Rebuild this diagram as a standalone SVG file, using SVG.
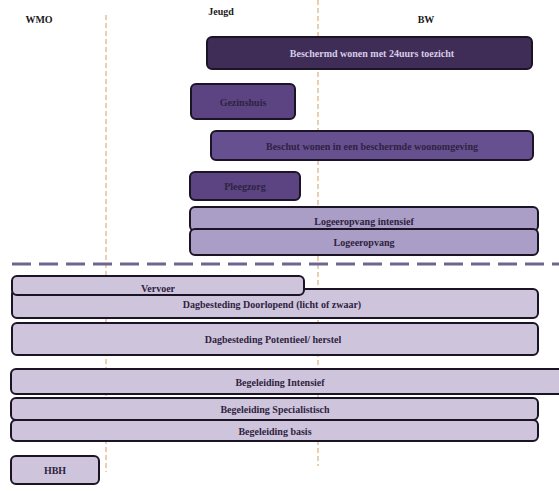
<svg xmlns="http://www.w3.org/2000/svg" width="559" height="491" viewBox="0 0 559 491">
<style>
.hdr{font-family:"Liberation Serif","DejaVu Serif",serif;font-weight:bold;font-size:10px;fill:#1a1a1a;text-anchor:middle}
.lbl{font-family:"Liberation Serif","DejaVu Serif",serif;font-weight:bold;font-size:10px;text-anchor:middle;dominant-baseline:central}
.box{stroke:#1b1424;stroke-width:2}
.d1{fill:#3f2d58}
.d2{fill:#5c4483}
.d3{fill:#675090}
.l1{fill:#aa9dc6}
.l2{fill:#cec5dd}
.tl{fill:#d6cce6}
.td{fill:#2e2340}
.vline{stroke:#e9bf98;stroke-width:1.5;stroke-dasharray:5 3;fill:none}
.hline{stroke:#6d668f;stroke-width:3;stroke-dasharray:19 8;fill:none}
</style>
<rect width="559" height="491" fill="#ffffff"/>
<g id="guides">
<line class="vline" x1="106" y1="15" x2="106" y2="472"/>
<line class="vline" x1="318" y1="0" x2="318" y2="466"/>
<line class="hline" x1="12" y1="264" x2="559" y2="264"/>
</g>
<g id="headers">
<text class="hdr" x="39" y="23">WMO</text>
<text class="hdr" x="221" y="15">Jeugd</text>
<text class="hdr" x="426" y="23">BW</text>
</g>
<g id="beschermd"><rect class="box d1" x="207" y="37" width="325" height="32" rx="5"/><text class="lbl tl" x="372" y="53">Beschermd wonen met 24uurs toezicht</text></g>
<g id="gezinshuis"><rect class="box d2" x="191" y="84" width="104" height="35" rx="5"/><text class="lbl td" x="243" y="102">Gezinshuis</text></g>
<g id="beschut"><rect class="box d3" x="211" y="131" width="322" height="29" rx="5"/><text class="lbl td" x="372" y="146">Beschut wonen in een beschermde woonomgeving</text></g>
<g id="pleegzorg"><rect class="box d2" x="190" y="172" width="110" height="28" rx="5"/><text class="lbl td" x="245" y="186">Pleegzorg</text></g>
<g id="logeer-intensief"><rect class="box l1" x="190" y="207" width="348" height="24" rx="5"/><text class="lbl td" x="364" y="221">Logeeropvang intensief</text></g>
<g id="logeer"><rect class="box l1" x="190" y="229" width="348" height="26" rx="5"/><text class="lbl td" x="364" y="242">Logeeropvang</text></g>
<g id="dag-doorlopend"><rect class="box l2" x="12" y="289" width="526" height="29" rx="5"/><text class="lbl td" x="272" y="304">Dagbesteding Doorlopend (licht of zwaar)</text></g>
<g id="vervoer"><rect class="box l2" x="12" y="276" width="292" height="19" rx="5"/><text class="lbl td" x="158" y="288">Vervoer</text></g>
<g id="dag-potentieel"><rect class="box l2" x="12" y="323" width="526" height="32" rx="5"/><text class="lbl td" x="273" y="339">Dagbesteding Potentieel/ herstel</text></g>
<g id="beg-intensief"><rect class="box l2" x="11" y="369" width="552" height="25" rx="5"/><text class="lbl td" x="280" y="382">Begeleiding  Intensief</text></g>
<g id="beg-spec"><rect class="box l2" x="11" y="398" width="527" height="22" rx="5"/><text class="lbl td" x="275" y="409">Begeleiding Specialistisch</text></g>
<g id="beg-basis"><rect class="box l2" x="11" y="420" width="527" height="21" rx="5"/><text class="lbl td" x="275" y="431">Begeleiding basis</text></g>
<g id="hbh"><rect class="box l2" x="11" y="456" width="88" height="28" rx="5"/><text class="lbl td" x="55" y="470">HBH</text></g>
</svg>
